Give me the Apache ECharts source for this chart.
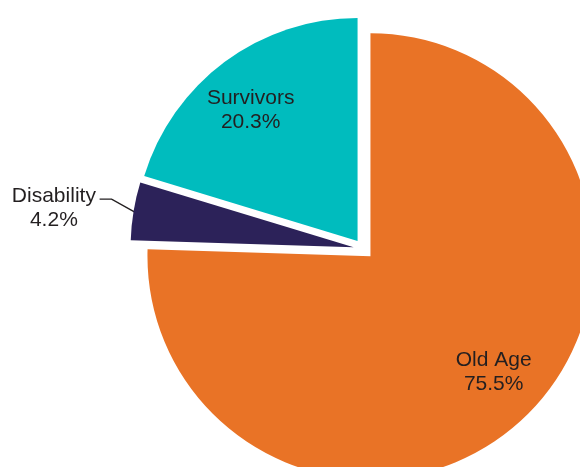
<!DOCTYPE html>
<html>
<head>
<meta charset="utf-8">
<script src="https://cdn.jsdelivr.net/npm/echarts@6/dist/echarts.min.js"></script>
<style>
  html, body { margin: 0; padding: 0; background: #fff; }
  #chart { width: 580px; height: 467px; }
</style>
</head>
<body>
<div id="chart"></div>
<script>
// Benefit shares by program type (percent)
const categories = ['Old Age', 'Disability', 'Survivors'];
const shares = [75.5, 4.2, 20.3];
const sliceColors = ['#E97326', '#2C2259', '#00BCBE'];

const textColor = '#231F20';
const fontFamily = '"Liberation Sans", Arial, sans-serif';
const center = [363.5, 249];
const outerRadius = 223;
const explode = 10;

const pieData = categories.map((name, i) => ({
  name,
  value: shares[i],
  selected: true,
  itemStyle: { color: sliceColors[i] },
  label: { show: name === 'Disability' },
  labelLine: { show: name === 'Disability' }
}));

// Transparent ring that only carries the inner labels, set further out than the default
const labelData = categories.map((name, i) => ({
  name,
  value: shares[i],
  selected: true,
  label: { show: name !== 'Disability' }
}));

const chart = echarts.init(document.getElementById('chart'), null, { renderer: 'canvas' });
chart.setOption({
  animation: false,
  series: [
    {
      type: 'pie',
      center,
      radius: [0, outerRadius],
      startAngle: 90,
      clockwise: true,
      selectedMode: 'multiple',
      selectedOffset: explode,
      data: pieData,
      itemStyle: { borderWidth: 0 },
      emphasis: { disabled: true },
      label: {
        position: 'outside',
        formatter: p => `{t|${p.name}}\n{t|${p.value.toFixed(1)}%}`,
        rich: {
          t: {
            width: 86,
            align: 'center',
            fontSize: 21,
            lineHeight: 24,
            color: textColor,
            fontFamily
          }
        }
      },
      labelLine: {
        show: true,
        length: 20,
        length2: 12,
        smooth: false,
        lineStyle: { color: textColor, width: 1.4 }
      },
      // Elbow leader: a short rising diagonal, then a flat run into the label
      labelLayout: params => {
        const pts = params.labelLinePoints;
        if (!pts || !pts.length) return {};
        const start = [pts[0][0] + 3, pts[0][1] + 2];
        const bend = [start[0] - 25, start[1] - 14];
        const end = [bend[0] - 12, bend[1]];
        return {
          x: end[0] - 3.5,
          y: end[1] + 7,
          align: 'right',
          verticalAlign: 'middle',
          labelLinePoints: [start, bend, end]
        };
      }
    },
    {
      type: 'pie',
      center,
      radius: [outerRadius * 0.49, outerRadius],
      startAngle: 92.5,
      clockwise: true,
      selectedMode: 'multiple',
      selectedOffset: explode,
      silent: true,
      data: labelData,
      itemStyle: { color: 'rgba(0,0,0,0)' },
      emphasis: { disabled: true },
      label: {
        position: 'inside',
        formatter: p => `${p.name}\n${p.value.toFixed(1)}%`,
        color: textColor,
        fontSize: 21,
        lineHeight: 24,
        fontFamily,
        align: 'center'
      },
      labelLine: { show: false }
    }
  ]
});
</script>
</body>
</html>
